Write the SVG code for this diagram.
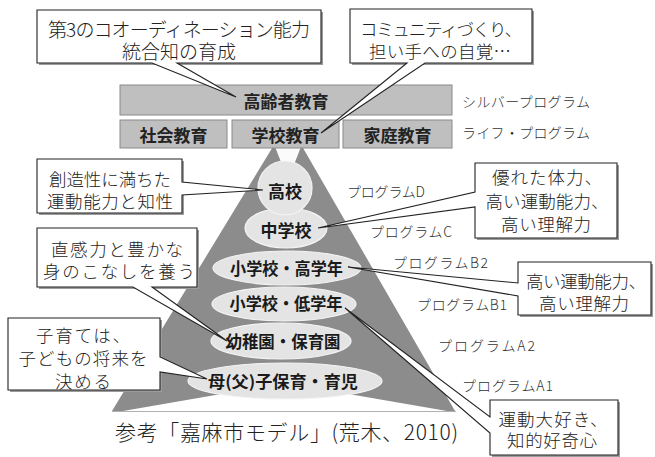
<svg xmlns="http://www.w3.org/2000/svg" width="655" height="457" viewBox="0 0 655 457">
<style>
text{font-family:"Noto Sans CJK JP","Noto Sans",sans-serif;dominant-baseline:central}
.co{fill:#fff;stroke:#222;stroke-width:1.1;stroke-linejoin:miter}
.sh{fill:#9c9c9c}
.ct{font-size:17.5px;font-weight:300;fill:#222;text-anchor:middle}
.bar{fill:#bfbfbf;stroke:#8a8a8a;stroke-width:1}
.bt{font-size:17px;font-weight:bold;fill:#222;text-anchor:middle}
.el{fill:#e4e4e4;stroke:#f4f4f4;stroke-width:1.2}
.et{font-size:16.5px;font-weight:bold;fill:#1a1a1a;text-anchor:middle}
.pl{font-size:14px;font-weight:300;fill:#333}
</style>
<rect width="655" height="457" fill="#fff"/>

<g id="pyramid">
<polygon points="288,122 112,411 455,411" fill="#8c8c8c"/>
<polygon points="275.5,148 300.5,148 288,180" fill="#fbfbfb"/>
<polygon points="123,411 285,383 447,411" fill="#fff"/>
<line x1="112" y1="411.5" x2="456" y2="411.5" stroke="#b0b0b0" stroke-width="1.2"/>
</g>

<g id="bars">
<g id="silver"><rect class="bar" x="120" y="85" width="332" height="30"/><text class="bt" x="286" y="100">高齢者教育</text></g>
<g id="shakai"><rect class="bar" x="120" y="120" width="107" height="28"/><text class="bt" x="173.5" y="134">社会教育</text></g>
<g id="gakko"><rect class="bar" x="232" y="120" width="107" height="28"/><text class="bt" x="285.5" y="134">学校教育</text></g>
<g id="katei"><rect class="bar" x="343" y="120" width="109" height="28"/><text class="bt" x="397.5" y="134">家庭教育</text></g>
</g>

<g id="levels">
<g id="l-bo"><ellipse class="el" cx="285" cy="381" rx="97" ry="18"/><text class="et" x="283" y="381" textLength="150" lengthAdjust="spacingAndGlyphs">母(父)子保育・育児</text></g>
<g id="l-yo"><ellipse class="el" cx="281" cy="341" rx="70" ry="18"/><text class="et" x="283" y="341" textLength="115" lengthAdjust="spacingAndGlyphs">幼稚園・保育園</text></g>
<g id="l-sl"><ellipse class="el" cx="284" cy="304" rx="72" ry="17"/><text class="et" x="286" y="303" textLength="113" lengthAdjust="spacingAndGlyphs">小学校・低学年</text></g>
<g id="l-sh"><ellipse class="el" cx="287" cy="268" rx="74" ry="17"/><text class="et" x="286.5" y="268" textLength="113" lengthAdjust="spacingAndGlyphs">小学校・高学年</text></g>
<g id="l-ch"><ellipse class="el" cx="286" cy="228" rx="41" ry="20"/><text class="et" x="286" y="229" style="font-size:17px">中学校</text></g>
<g id="l-ko"><circle class="el" cx="285" cy="188" r="27"/><text class="et" x="285" y="190" style="font-size:17px">高校</text></g>
</g>

<g id="programs">
<text class="pl" x="462" y="101" textLength="128">シルバープログラム</text>
<text class="pl" x="462" y="132" textLength="128">ライフ・プログラム</text>
<text class="pl" x="347" y="191" textLength="78">プログラムD</text>
<text class="pl" x="370" y="231" textLength="82">プログラムC</text>
<text class="pl" x="393" y="262" textLength="95">プログラムB2</text>
<text class="pl" x="417" y="304" textLength="90">プログラムB1</text>
<text class="pl" x="438" y="345" textLength="97">プログラムA2</text>
<text class="pl" x="462" y="385" textLength="91">プログラムA1</text>
</g>

<g id="callout1">
<rect class="sh" x="39" y="12" width="284" height="53"/>
<path class="co" d="M37,10 H321 V63 H177 L236,97 L152,63 H37 Z"/>
<text class="ct" x="179" y="28" style="font-size:19px" textLength="262">第3のコオーディネーション能力</text>
<text class="ct" x="179" y="50" style="font-size:19px">統合知の育成</text>
</g>

<g id="callout2">
<rect class="sh" x="352" y="11" width="182" height="54"/>
<path class="co" d="M350,9 H532 V63 H425 L321,133 L407,63 H350 Z"/>
<text class="ct" x="441" y="28" textLength="162">コミュニティづくり、</text>
<text class="ct" x="440" y="50" textLength="142">担い手への自覚…</text>
</g>

<g id="callout3">
<rect class="sh" x="39" y="161" width="145" height="54"/>
<path class="co" d="M37,159 H182 V182 L263,190 L182,195 V213 H37 Z"/>
<text class="ct" x="110" y="178" textLength="122">創造性に満ちた</text>
<text class="ct" x="110" y="200" textLength="126">運動能力と知性</text>
</g>

<g id="callout4">
<rect class="sh" x="39" y="230" width="160" height="59"/>
<path class="co" d="M37,228 H197 V287 H152 L227,341 L133,287 H37 Z"/>
<text class="ct" x="117" y="248" textLength="132">直感力と豊かな</text>
<text class="ct" x="119" y="270" textLength="152">身のこなしを養う</text>
</g>

<g id="callout5">
<rect class="sh" x="10" y="320" width="152" height="72"/>
<path class="co" d="M8,318 H160 V357 L207,379 L160,372 V390 H8 Z"/>
<text class="ct" x="83" y="334" textLength="94">子育ては、</text>
<text class="ct" x="83" y="357" textLength="129">子どもの将来を</text>
<text class="ct" x="83" y="380" textLength="56">決める</text>
</g>

<g id="callout6">
<rect class="sh" x="477" y="165" width="142" height="75"/>
<path class="co" d="M475,163 H617 V238 H475 V207 L318,228 L475,192 Z"/>
<text class="ct" x="547" y="176" textLength="110">優れた体力、</text>
<text class="ct" x="547" y="200" textLength="123">高い運動能力、</text>
<text class="ct" x="546" y="223" textLength="90">高い理解力</text>
</g>

<g id="callout7">
<rect class="sh" x="520" y="264" width="133" height="53"/>
<path class="co" d="M518,262 H651 V315 H518 V296 L348,267 L518,283 Z"/>
<text class="ct" x="586" y="280" textLength="120">高い運動能力、</text>
<text class="ct" x="584" y="302" textLength="90">高い理解力</text>
</g>

<g id="callout8">
<rect class="sh" x="492" y="402" width="128" height="55"/>
<path class="co" d="M490,400 H618 V455 H490 V433 L345,308 L490,417 Z"/>
<text class="ct" x="553" y="418" textLength="109">運動大好き、</text>
<text class="ct" x="552" y="439" textLength="90">知的好奇心</text>
</g>

<g id="caption">
<text x="115" y="431" style="font-size:21px;font-weight:300;fill:#222" textLength="343">参考「嘉麻市モデル」(荒木、2010)</text>
</g>
</svg>
